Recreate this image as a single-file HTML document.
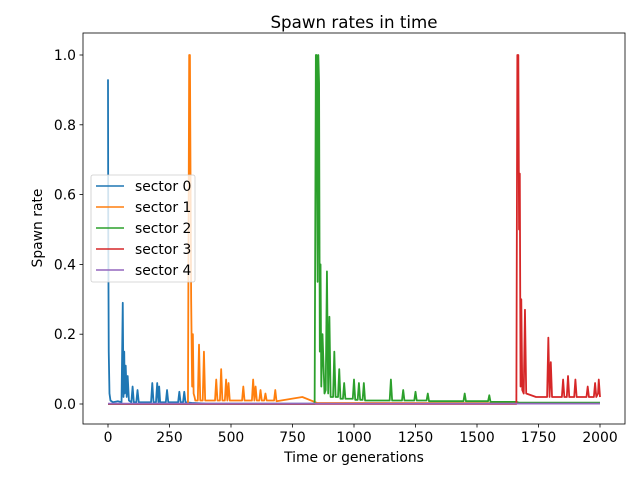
<!DOCTYPE html>
<html><head><meta charset="utf-8"><style>
body{margin:0;background:#fff;}
svg text{font-family:"DejaVu Sans","Liberation Sans",sans-serif;fill:#000;}
</style></head><body>
<svg id="chart" width="640" height="480" xmlns="http://www.w3.org/2000/svg">
<rect width="640" height="480" fill="#fff"/>
<g id="plot"></g>
</svg>
<script>
const xTicks=[0,250,500,750,1000,1250,1500,1750,2000];
const yTicks=[0,0.2,0.4,0.6,0.8,1.0];
const yTickLabels=["0.0","0.2","0.4","0.6","0.8","1.0"];
const seriesNames=["sector 0","sector 1","sector 2","sector 3","sector 4"];
const colors=["#1f77b4","#ff7f0e","#2ca02c","#d62728","#9467bd"];
const t0=[0,1,3,6,10,20,40,55,60,63,66,68,72,76,80,85,95,100,105,115,120,125,175,180,185,195,200,205,208,212,235,240,245,285,290,295,305,310,315,340,400,2000];
const v0=[0.93,0.5,0.15,0.03,0.01,0.005,0.008,0.005,0.29,0.02,0.15,0.03,0.11,0.02,0.08,0.01,0.005,0.05,0.005,0.005,0.04,0.005,0.005,0.06,0.005,0.005,0.06,0.005,0.05,0.005,0.005,0.04,0.005,0.005,0.035,0.005,0.005,0.035,0.005,0.003,0.001,0.001];
const t1=[0,325,330,333,338,342,345,348,352,355,365,370,375,385,390,395,435,440,445,455,460,465,475,480,485,490,495,545,550,555,585,590,595,600,605,615,620,625,635,640,645,675,680,685,790,850,2000];
const v1=[0,0,1.0,1.0,0.3,0.05,0.2,0.03,0.02,0.01,0.01,0.17,0.01,0.01,0.15,0.01,0.01,0.07,0.01,0.01,0.1,0.01,0.01,0.07,0.01,0.06,0.01,0.01,0.05,0.01,0.01,0.07,0.01,0.05,0.01,0.01,0.04,0.01,0.01,0.03,0.01,0.01,0.04,0.008,0.02,0.003,0.002];
const t2=[0,840,845,848,852,855,858,861,864,867,872,880,885,890,895,900,905,915,920,925,935,940,945,955,960,965,995,1000,1005,1015,1020,1025,1035,1040,1045,1145,1150,1155,1195,1200,1205,1245,1250,1255,1295,1300,1305,1445,1450,1455,1545,1550,1555,1660,1670,2000];
const v2=[0,0,1.0,1.0,0.35,1.0,0.92,0.15,0.4,0.05,0.2,0.03,0.04,0.38,0.03,0.25,0.02,0.02,0.15,0.02,0.02,0.1,0.015,0.015,0.06,0.015,0.015,0.07,0.012,0.012,0.06,0.012,0.012,0.06,0.01,0.01,0.07,0.01,0.01,0.04,0.01,0.01,0.035,0.01,0.01,0.03,0.008,0.008,0.03,0.008,0.008,0.025,0.006,0.006,0.004,0.004];
const t3=[0,1660,1664,1668,1671,1674,1677,1680,1684,1690,1695,1700,1740,1785,1790,1795,1800,1805,1845,1850,1855,1865,1870,1875,1895,1900,1905,1945,1950,1955,1975,1980,1985,1992,1995,2000];
const v3=[0,0,1.0,1.0,0.5,0.66,0.05,0.3,0.04,0.03,0.27,0.03,0.02,0.02,0.19,0.02,0.12,0.02,0.02,0.07,0.02,0.02,0.08,0.02,0.02,0.07,0.02,0.02,0.05,0.02,0.02,0.06,0.02,0.03,0.07,0.02];
const t4=[0,2000];
const v4=[0.001,0.001];
const T=[t0,t1,t2,t3,t4],V=[v0,v1,v2,v3,v4];
const L=83,R=625,TOP=33,B=424;
const X=t=>108+t*(600-108)/2000;
const Y=v=>404-v*(404-55);
const NS="http://www.w3.org/2000/svg";
const g=document.getElementById('plot');
function mk(tag,attrs,txt){const e=document.createElementNS(NS,tag);for(const k in attrs)e.setAttribute(k,attrs[k]);if(txt!==undefined)e.textContent=txt;g.appendChild(e);return e;}
for(let s=0;s<5;s++){
 const d=T[s].map((t,i)=>(i?'L':'M')+X(t).toFixed(2)+','+Y(V[s][i]).toFixed(2)).join(' ');
 const p=mk('path',{d:d,fill:'none',stroke:colors[s],'stroke-width':1.8,'stroke-linejoin':'round'});
 
 
}
const frame=mk('rect',{x:L,y:TOP,width:R-L,height:B-TOP,fill:'none',stroke:'#000','stroke-width':0.8});


xTicks.forEach(t=>{
 mk('line',{x1:X(t),x2:X(t),y1:B,y2:B+3.5,stroke:'#000','stroke-width':0.8});
 const e=mk('text',{x:X(t),y:B+18,'font-size':13.9,'text-anchor':'middle'},String(t));
 
 
});
yTicks.forEach((v,i)=>{
 mk('line',{x1:L-3.5,x2:L,y1:Y(v),y2:Y(v),stroke:'#000','stroke-width':0.8});
 const e=mk('text',{x:L-7,y:Y(v)+5,'font-size':13.9,'text-anchor':'end'},yTickLabels[i]);
 
 
});
let e=mk('text',{x:354,y:28,'font-size':16.7,'text-anchor':'middle'},'Spawn rates in time');


e=mk('text',{x:354,y:462,'font-size':13.9,'text-anchor':'middle'},'Time or generations');


e=mk('text',{x:42,y:228,'font-size':13.9,'text-anchor':'middle',transform:'rotate(-90 42 228)'},'Spawn rate');


const lg=mk('rect',{x:91,y:175,width:104,height:107,rx:2,fill:'#fff','fill-opacity':0.8,stroke:'#ccc','stroke-width':0.8});


seriesNames.forEach((n,i)=>{
 const y=186+i*21;
 mk('line',{x1:96,x2:124,y1:y,y2:y,stroke:colors[i],'stroke-width':1.5});
 const t=mk('text',{x:135,y:y+5,'font-size':13.9},n);
 
 
});
</script>
</body></html>
